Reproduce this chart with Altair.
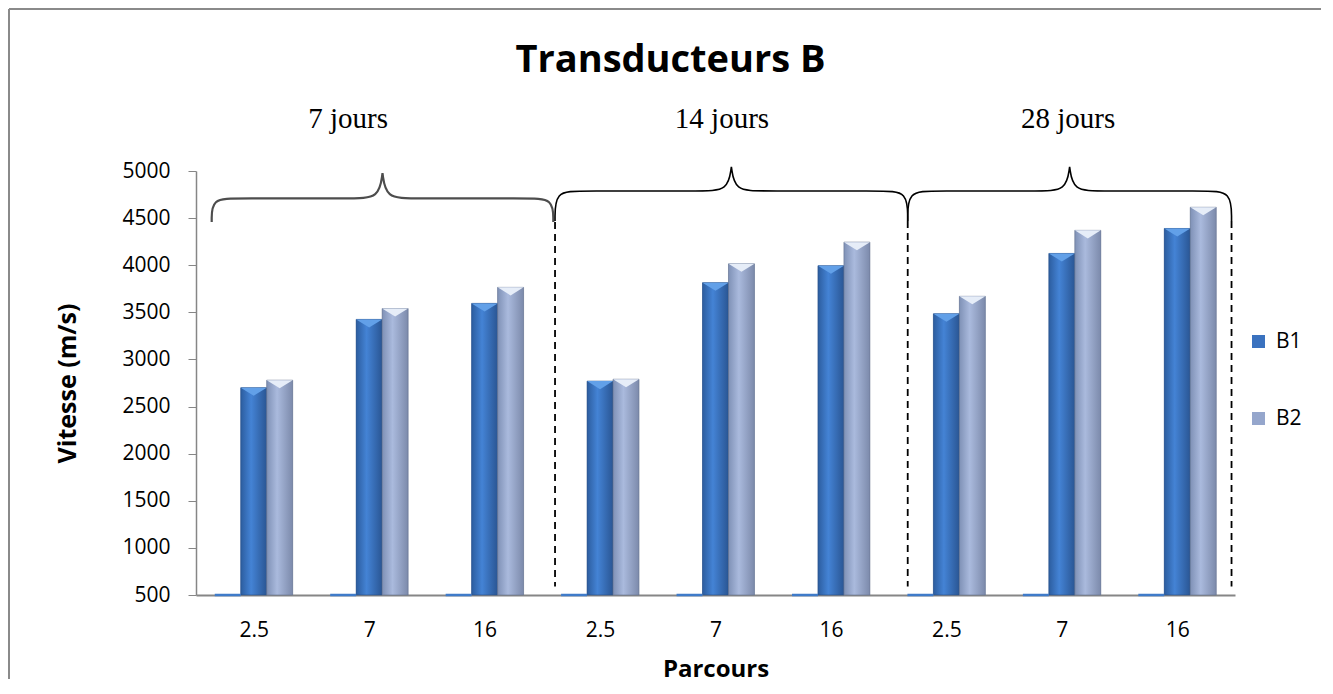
import json
import altair as alt
import pandas as pd

# ---------------- data ----------------
ages = ["7 jours", "14 jours", "28 jours"]
parcours = ["2.5", "7", "16"]
series = ["B1", "B2"]
b1 = [2700, 3425, 3595, 2770, 3815, 3995, 3485, 4125, 4390]
b2 = [2780, 3540, 3765, 2790, 4015, 4245, 3670, 4370, 4615]
serie_vide = [0, 0, 0, 0, 0, 0, 0, 0, 0]

# annotation anchors (x in category units, y in axis units)
accolade_debut = [0.136, 3.11, 6.165]
accolade_fin = [3.095, 6.165, 8.97]
accolade_bout = [4460, 4470, 4470]
accolade_milieu = [4710, 4788, 4788]
accolade_sommet = [4976, 5043, 5043]
pointilles_x = [3.11, 6.165, 8.97]
pointilles_bas = [590, 590, 590]
etiquette_x = [1.317, 4.556, 7.554]

W, H = 1039, 424
BAR = 0.225  # bar width in category units

rows = []
for i in range(9):
    for k, (s, vals) in enumerate([("", serie_vide), ("B1", b1), ("B2", b2)]):
        rows.append(dict(idx=i, age=ages[i // 3], parcours=parcours[i % 3],
                         serie=s, k=k, valeur=vals[i]))
df = pd.DataFrame(rows)

xs = alt.Scale(domain=[0, 9], nice=False, zero=False)
ys = alt.Scale(domain=[500, 5000], nice=False, zero=False)
FONT = "Open Sans"
label_js = json.dumps(parcours)
xaxis = alt.Axis(values=[i + 0.5 for i in range(9)],
                 labelExpr=f"{label_js}[floor(datum.value) % 3]",
                 ticks=False, grid=False, domainColor="#868686", domainWidth=2,
                 labelFont=FONT, labelFontSize=21, labelColor="black", labelPadding=24,
                 titleFont=FONT, titleFontSize=24, titleFontWeight="bold",
                 titleColor="black", titlePadding=17)
yaxis = alt.Axis(values=list(range(500, 5001, 500)), format="d", grid=False,
                 tickSize=8, tickColor="#868686", domainColor="#868686", domainWidth=1.5,
                 labelFont=FONT, labelFontSize=21, labelColor="black", labelPadding=18,
                 titleFont=FONT, titleFontSize=25, titleFontWeight="bold",
                 titleColor="black", titlePadding=41)


def X(f):
    return alt.X(f, scale=xs, axis=xaxis, title="Parcours")


def Y(f):
    return alt.Y(f, scale=ys, axis=yaxis, title="Vitesse (m/s)")


base = alt.Chart(df).transform_calculate(
    x0=f"datum.idx + 0.5 + (datum.k - 1) * {BAR} - {BAR / 2}",
    x1=f"datum.idx + 0.5 + (datum.k - 1) * {BAR} + {BAR / 2}",
    xc=f"datum.idx + 0.5 + (datum.k - 1) * {BAR}",
)

bars = base.transform_filter("datum.serie != ''").mark_bar().encode(
    x=X("x0:Q"), x2="x1:Q", y=Y("valeur:Q"), y2=alt.datum(500),
    color=alt.Color("serie:N", scale=alt.Scale(domain=series, range=["#3a72bf", "#95a6cc"]),
                    legend=alt.Legend(orient="none", legendX=1052, legendY=160, title=None,
                                      symbolType="square", symbolSize=169, symbolStrokeWidth=0,
                                      labelFont=FONT, labelFontSize=21, labelColor="black",
                                      labelOffset=7, rowPadding=55, padding=0)),
)


def grad(c0, c1, c2):
    return alt.LinearGradient(gradient="linear", x1=0, x2=1, y1=0, y2=0, stops=[
        alt.GradientStop(offset=0, color=c0),
        alt.GradientStop(offset=0.4, color=c1),
        alt.GradientStop(offset=1, color=c2)])


shade1 = base.transform_filter("datum.serie == 'B1'").mark_bar(
    fill=grad("#2c5d9f", "#4483d5", "#2a5694"), stroke="#2a4f85", strokeWidth=0.6).encode(
    x=X("x0:Q"), x2="x1:Q", y=Y("valeur:Q"), y2=alt.datum(500))
shade2 = base.transform_filter("datum.serie == 'B2'").mark_bar(
    fill=grad("#7f91b6", "#aabadd", "#7c8aab"), stroke="#66738f", strokeWidth=0.6).encode(
    x=X("x0:Q"), x2="x1:Q", y=Y("valeur:Q"), y2=alt.datum(500))

tri = base.transform_filter("datum.serie != ''").mark_point(
    shape="M-1,0L1,0L0,0.62Z", size=BAR * W / 9 * BAR * W / 9, filled=True, opacity=1,
    strokeWidth=0).encode(
    x=X("xc:Q"), y=Y("valeur:Q"),
    fill=alt.condition("datum.serie == 'B1'", alt.value("#62a0e8"), alt.value("#e6edf8")))

ghost = base.transform_filter("datum.serie == ''").transform_calculate(
    yv="max(datum.valeur, 500)").mark_rule(color="#3f7bc9", strokeWidth=2.5).encode(
    x=X("x0:Q"), x2="x1:Q", y=Y("yv:Q"))

# braces
c, p = 0.22, 0.26
pts = []
for b in range(3):
    xa, xb = accolade_debut[b], accolade_fin[b]
    xm = (xa + xb) / 2
    ye, ym, yt = accolade_bout[b], accolade_milieu[b], accolade_sommet[b]
    seq = [(xa, ye), (xa, ym), (xa + c, ym), (xm - p, ym), (xm - 0.03, ym), (xm, yt), (xm, yt),
           (xm, yt), (xm + 0.03, ym), (xm + p, ym), (xb - c, ym), (xb, ym), (xb, ye)]
    for o, (bx, by) in enumerate(seq):
        pts.append(dict(brace=b, o=o, bx=bx, by=by))
dfb = pd.DataFrame(pts)

brace1 = alt.Chart(dfb[dfb.brace == 0]).mark_line(
    interpolate="basis", color="#4d4d4d", strokeWidth=2.2).encode(
    x=X("bx:Q"), y=Y("by:Q"), order="o:Q", detail="brace:N")
brace23 = alt.Chart(dfb[dfb.brace > 0]).mark_line(
    interpolate="basis", color="black", strokeWidth=1.6).encode(
    x=X("bx:Q"), y=Y("by:Q"), order="o:Q", detail="brace:N")

dfd = pd.DataFrame(dict(dx=pointilles_x, dy1=accolade_bout, dy2=pointilles_bas))
dashed = alt.Chart(dfd).mark_rule(color="black", strokeWidth=1.8, strokeDash=[7, 5]).encode(
    x=X("dx:Q"), y=Y("dy1:Q"), y2="dy2:Q")

dfl = pd.DataFrame(dict(lx=etiquette_x, age=ages))
labels = alt.Chart(dfl).mark_text(font="Liberation Serif", fontSize=29, baseline="alphabetic",
                                  align="center", color="black").encode(
    x=X("lx:Q"), y=alt.value(-43), text="age:N")

title = alt.Chart(pd.DataFrame(dict(t=["Transducteurs B"]))).mark_text(
    font=FONT, fontSize=38, fontWeight="bold", baseline="alphabetic", align="center",
    color="black").encode(x=alt.value(474.5), y=alt.value(-99), text="t:N")

one = pd.DataFrame(dict(a=[0]))
frame_left = alt.Chart(one).mark_rule(color="#8a8a8a", strokeWidth=2).encode(
    x=alt.value(-187), x2=alt.value(-187), y=alt.value(-162), y2=alt.value(508))
frame_top = alt.Chart(one).mark_rule(color="#8a8a8a", strokeWidth=2).encode(
    x=alt.value(-187), x2=alt.value(1125), y=alt.value(-162), y2=alt.value(-162))

chart = alt.layer(frame_left, frame_top, bars, shade1, shade2, tri, ghost,
                  brace1, brace23, dashed, labels, title).properties(
    width=W, height=H, background="white",
    padding={"left": 0, "top": 0, "right": 0, "bottom": 4}
).configure_view(stroke=None)

chart.save("out.html", embed_options={"renderer": "svg", "actions": False})
